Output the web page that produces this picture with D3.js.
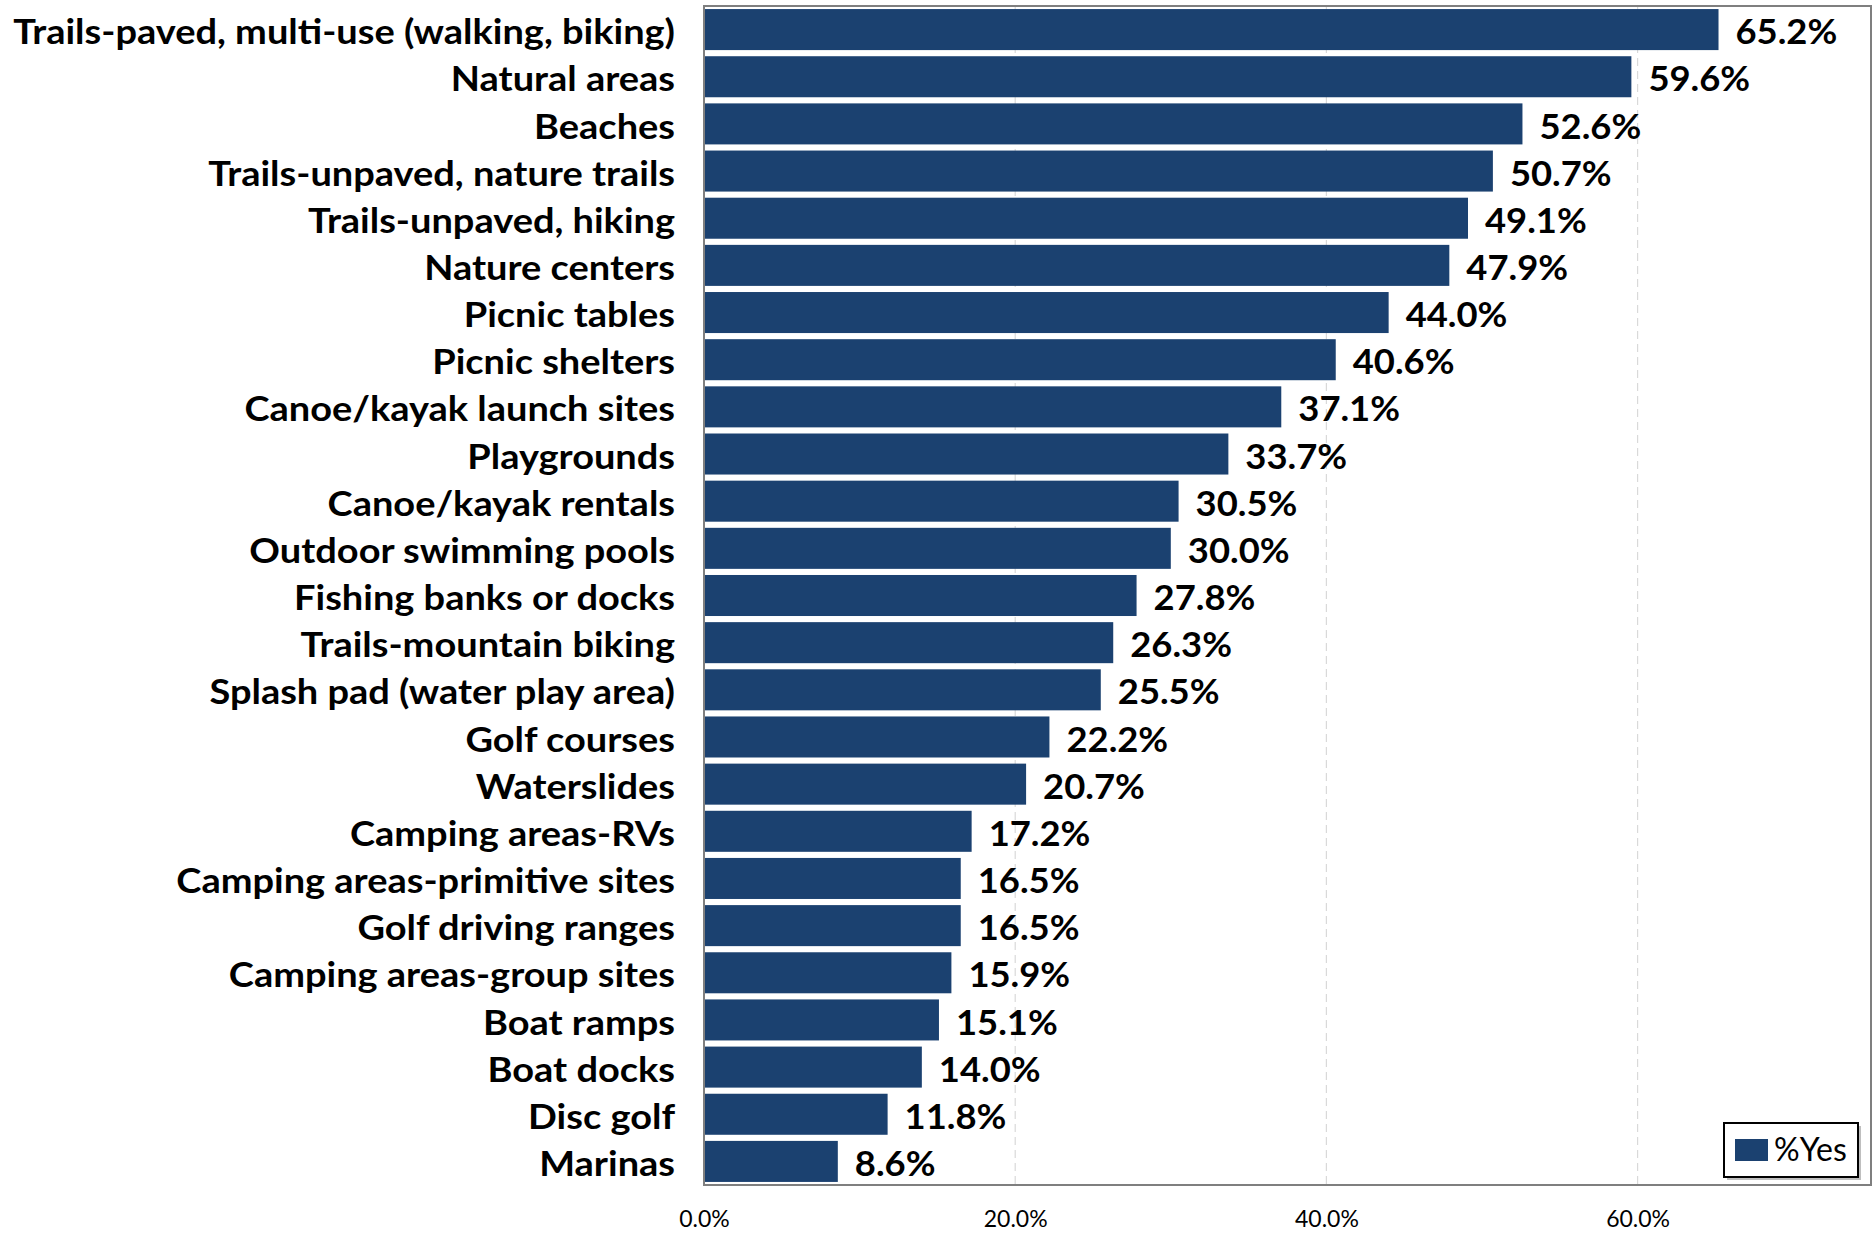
<!DOCTYPE html>
<html>
<head>
<meta charset="utf-8">
<script src="https://cdn.jsdelivr.net/npm/d3@7/dist/d3.min.js"></script>
<style>
  html, body { margin: 0; padding: 0; background: #fff; }
  svg { display: block; }
  text { font-family: Lato, "Open Sans", sans-serif; fill: #000; }
</style>
</head>
<body>
<svg id="chart" width="1874" height="1233"></svg>
<script>
const categories = [
  "Trails-paved, multi-use (walking, biking)",
  "Natural areas",
  "Beaches",
  "Trails-unpaved, nature trails",
  "Trails-unpaved, hiking",
  "Nature centers",
  "Picnic tables",
  "Picnic shelters",
  "Canoe/kayak launch sites",
  "Playgrounds",
  "Canoe/kayak rentals",
  "Outdoor swimming pools",
  "Fishing banks or docks",
  "Trails-mountain biking",
  "Splash pad (water play area)",
  "Golf courses",
  "Waterslides",
  "Camping areas-RVs",
  "Camping areas-primitive sites",
  "Golf driving ranges",
  "Camping areas-group sites",
  "Boat ramps",
  "Boat docks",
  "Disc golf",
  "Marinas"
];
const yesValues = [65.2, 59.6, 52.6, 50.7, 49.1, 47.9, 44.0, 40.6, 37.1, 33.7, 30.5, 30.0, 27.8, 26.3, 25.5, 22.2, 20.7, 17.2, 16.5, 16.5, 15.9, 15.1, 14.0, 11.8, 8.6];
const tickValues = [0, 20, 40, 60];
const seriesName = "%Yes";

const barColor = "#1b4170";
const svg = d3.select("#chart");
const plot = { left: 704, right: 1871, top: 6, bottom: 1185 };

const x = d3.scaleLinear().domain([0, 75]).range([plot.left, plot.right]);
const y = d3.scaleBand().domain(categories).range([plot.top, plot.bottom])
  .paddingInner(0.13).paddingOuter(0.065);

// gridlines
svg.append("g").selectAll("line").data(tickValues.filter(d => d > 0)).join("line")
  .attr("x1", d => x(d)).attr("x2", d => x(d))
  .attr("y1", plot.top).attr("y2", plot.bottom)
  .attr("stroke", "#d9d9d9").attr("stroke-width", 1.2).attr("stroke-dasharray", "8,5");

// bars
const data = categories.map((c, i) => ({ c, v: yesValues[i] }));
svg.append("g").selectAll("rect").data(data).join("rect")
  .attr("x", x(0)).attr("y", d => y(d.c))
  .attr("width", d => x(d.v) - x(0)).attr("height", y.bandwidth())
  .attr("fill", barColor);

// plot border
svg.append("rect").attr("x", plot.left).attr("y", plot.top)
  .attr("width", plot.right - plot.left).attr("height", plot.bottom - plot.top)
  .attr("fill", "none").attr("stroke", "#7f7f7f").attr("stroke-width", 2);

// measure width to match reference label extent
const probe = svg.append("text").attr("font-size", 35).attr("font-weight", "bold").text(categories[0]);
const w0 = probe.node().getComputedTextLength();
probe.remove();
const sx = 662 / w0;

// category labels
svg.append("g").selectAll("g").data(data).join("g")
  .attr("transform", d => `translate(675,${y(d.c) + y.bandwidth() / 2 + 2}) scale(${sx},1)`)
  .append("text")
  .attr("text-anchor", "end").attr("dy", "0.36em")
  .attr("font-size", 35).attr("font-weight", "bold")
  .text(d => d.c);

// value labels
svg.append("g").selectAll("g").data(data).join("g")
  .attr("transform", d => `translate(${x(d.v) + 17},${y(d.c) + y.bandwidth() / 2 + 2}) scale(1.04,1)`)
  .append("text")
  .attr("dy", "0.36em")
  .attr("font-size", 35).attr("font-weight", "bold")
  .text(d => d.v.toFixed(1) + "%");

// x axis tick labels
const axis = d3.axisBottom(x).tickValues(tickValues).tickSize(0).tickPadding(0)
  .tickFormat(d => d.toFixed(1) + "%");
const ax = svg.append("g").attr("transform", `translate(0,${1227})`).call(axis);
ax.select(".domain").remove();
ax.selectAll(".tick text").attr("font-size", 23).attr("fill", "#000")
  .attr("font-family", "Lato, sans-serif")
  .attr("dy", 0).attr("y", 0);

// legend
const lg = svg.append("g");
lg.append("rect").attr("x", 1727).attr("y", 1126).attr("width", 134).attr("height", 54)
  .attr("fill", "#bfbfbf");
lg.append("rect").attr("x", 1724).attr("y", 1123).attr("width", 134).attr("height", 54)
  .attr("fill", "#fff").attr("stroke", "#000").attr("stroke-width", 2);
lg.append("rect").attr("x", 1735).attr("y", 1139).attr("width", 33).attr("height", 22)
  .attr("fill", barColor);
lg.append("text").attr("x", 1774).attr("y", 1161).attr("font-size", 32).text(seriesName);
</script>
</body>
</html>
